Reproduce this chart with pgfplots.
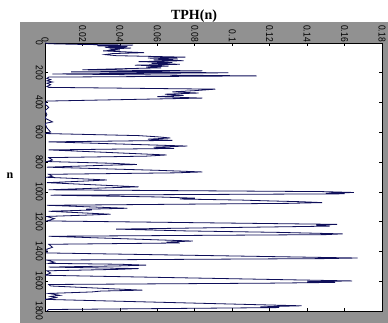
\documentclass[border=0pt]{standalone}
\usepackage{fontspec}
\setmainfont{Liberation Serif}
\newfontfamily\tickfont[FakeStretch=0.85]{Liberation Sans}
\usepackage{pgfplots}
\pgfplotsset{compat=1.18}
\definecolor{figgray}{RGB}{145,145,145}
\definecolor{linecol}{RGB}{15,15,90}
\begin{document}
\begin{tikzpicture}
\useasboundingbox (0,0) rectangle (388pt,323pt);
\fill[white] (0,0) rectangle (388pt,323pt);
\fill[figgray] (20pt,0) rectangle (388pt,301pt);
\begin{axis}[
  at={(45pt,12pt)}, anchor=south west,
  scale only axis, width=337pt, height=268pt,
  axis background/.style={fill=white},
  xmin=0, xmax=0.18, ymin=0, ymax=1800,
  y dir=reverse,
  xtick={0,0.02,0.04,0.06,0.08,0.1,0.12,0.14,0.16,0.18},
  xticklabels={0,0.02,0.04,0.06,0.08,0.1,0.12,0.14,0.16,0.18},
  ytick={0,200,400,600,800,1000,1200,1400,1600,1800},
  yticklabels={0,200,400,600,800,1000,1200,1400,1600,1800},
  xticklabel pos=upper,
  yticklabel pos=left,
  tick align=inside,
  major tick length=3pt,
  tick style={black, line width=0.6pt},
  axis line style={black, line width=0.7pt},
  xticklabel style={rotate=-90, anchor=east, font=\tickfont\fontsize{10}{11}\selectfont, inner sep=1pt},
  yticklabel style={rotate=-90, anchor=north, font=\tickfont\fontsize{10}{11}\selectfont, inner sep=2pt},
]
\addplot[linecol, line width=0.8pt] coordinates {
(0,0) (0.002,5) (0.021,10) (0.047,14) (0.028,19) (0.044,24) (0.032,29) (0.046,34)
(0.034,40) (0.040,46) (0.031,53) (0.053,65) (0.036,71) (0.032,78) (0.038,85)
(0.075,95) (0.055,101) (0.071,107) (0.058,113) (0.074,119) (0.050,125) (0.068,131)
(0.057,137) (0.072,143) (0.048,149) (0.066,155) (0.054,161) (0.062,167) (0.040,173)
(0.020,180) (0.084,187) (0.014,194) (0.098,200) (0.004,208) (0.113,221) (0.002,229)
(0.001,238) (0.003,246) (0.001,254) (0.004,262) (0.001,270) (0.003,280) (0.001,292)
(0.002,298) (0.091,310) (0.080,320) (0.068,328) (0.082,336) (0.064,344) (0.074,352)
(0.060,360) (0.084,370) (0.001,390) (0.000,410) (0.002,432) (0.000,455) (0.001,480)
(0.000,505) (0.004,530) (0.000,540) (0.001,570) (0.003,598) (0.000,608)
(0.050,622) (0.060,630) (0.067,638) (0.055,646) (0.068,654) (0.002,664)
(0.076,692) (0.058,700) (0.069,708) (0.002,718) (0.065,752) (0.054,760) (0.002,770)
(0.004,786) (0.001,796) (0.036,808) (0.049,816) (0.030,822) (0.001,834)
(0.060,855) (0.084,866) (0.070,872) (0.002,882) (0.004,895) (0.001,902)
(0.016,910) (0.033,920) (0.020,928) (0.001,938) (0.050,966) (0.030,974) (0.002,986)
(0.148,998) (0.165,1004) (0.150,1009) (0.160,1013) (0.003,1022)
(0.060,1034) (0.080,1042) (0.072,1048) (0.105,1055) (0.118,1060) (0.137,1066)
(0.148,1072) (0.130,1077) (0.001,1090) (0.044,1110) (0.022,1116) (0.025,1122)
(0.002,1130) (0.035,1150) (0.022,1156) (0.001,1165) (0.005,1180) (0.001,1195)
(0.156,1218) (0.145,1224) (0.152,1230) (0.038,1250) (0.075,1262) (0.125,1272)
(0.159,1282) (0.150,1287) (0.002,1298) (0.079,1330) (0.065,1337) (0.072,1343)
(0.002,1352) (0.004,1372) (0.001,1385) (0.001,1410) (0.167,1444) (0.150,1448)
(0.001,1458) (0.005,1472) (0.002,1480) (0.040,1486) (0.054,1492) (0.040,1497)
(0.002,1505) (0.050,1515) (0.040,1520) (0.001,1530) (0.003,1545) (0.000,1560)
(0.164,1598) (0.140,1603) (0.155,1608) (0.120,1613) (0.002,1622) (0.003,1632)
(0.052,1660) (0.030,1666) (0.025,1672) (0.002,1682) (0.008,1695) (0.003,1702)
(0.006,1710) (0.000,1722) (0.137,1765) (0.115,1772) (0.125,1777) (0.002,1790)
(0.001,1800)
};
\end{axis}
\node[font=\bfseries\fontsize{14}{15}\selectfont] at (194pt,307pt) {TPH(n)};
\node[font=\bfseries\fontsize{12}{13}\selectfont] at (10pt,147pt) {n};
\end{tikzpicture}
\end{document}
